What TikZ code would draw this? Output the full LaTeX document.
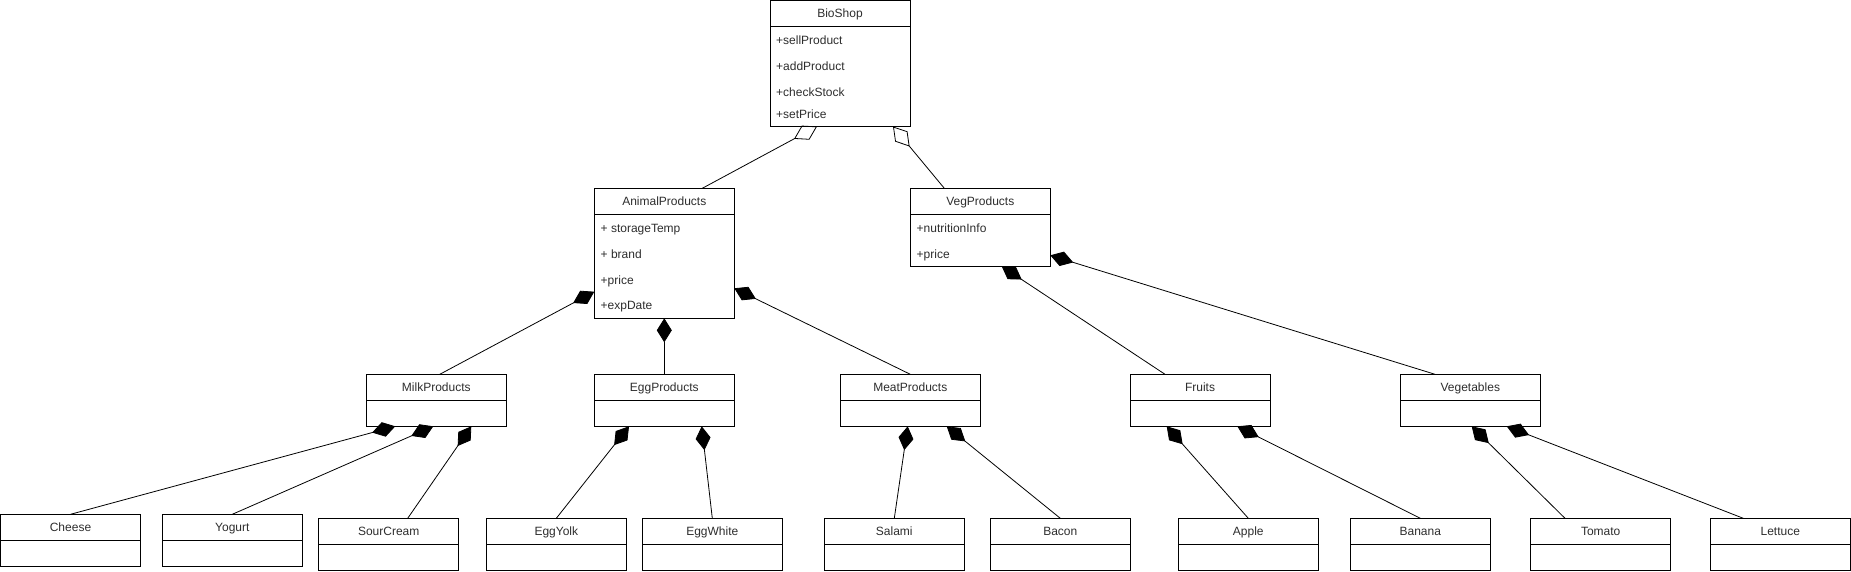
\documentclass[tikz,border=0pt]{standalone}
\usepackage{fontspec}
\setmainfont{Liberation Sans}
\usetikzlibrary{arrows.meta,positioning}
\definecolor{ink}{RGB}{45,45,45}
\tikzset{
  cls/.style={draw,line width=1pt,minimum width=140pt,minimum height=26pt,inner sep=0pt,outer sep=0pt,
    anchor=north west,font=\fontsize{12}{14}\selectfont,text=ink,text height=9pt,text depth=0pt},
  compart/.style={draw,line width=1pt,minimum width=140pt,minimum height=#1,inner sep=0pt,outer sep=0pt},
  compart/.default=26pt,
  row/.style={anchor=west,inner sep=0pt,font=\fontsize{12}{14}\selectfont,text=ink,
    text height=9pt,text depth=0pt},
  part/.style={{Diamond[length=24pt,width=15pt]}-,line width=0.8pt},
  shared/.style={{Diamond[open,length=26pt,width=16pt]}-,line width=0.8pt},
}
\begin{document}
\begin{tikzpicture}[x=1pt,y=-1pt]
    \useasboundingbox (0,0) rectangle (1851,572);
    % top classes
    \node[cls] (bio) at (770,0.5) {BioShop};
    \node[compart=100pt,below=0pt of bio] (bio-b) {};
    \node[row] (bio-r1) at (776,39.7) {+sellProduct};
    \node[row] (bio-r2) at (776,65.7) {+addProduct};
    \node[row] (bio-r3) at (776,91.7) {+checkStock};
    \node[row] (bio-r4) at (776,113.7) {+setPrice};
    \node[cls] (animal) at (594.3,188.3) {AnimalProducts};
    \node[compart=104pt,below=0pt of animal] (animal-b) {};
    \node[row] (animal-r1) at (600.5,227.7) {+ storageTemp};
    \node[row] (animal-r2) at (600.5,253.7) {+ brand};
    \node[row] (animal-r3) at (600.5,279.7) {+price};
    \node[row] (animal-r4) at (600.5,305.3) {+expDate};
    \node[cls] (veg) at (910.3,188.3) {VegProducts};
    \node[compart=52pt,below=0pt of veg] (veg-b) {};
    \node[row] (veg-r1) at (916.5,227.7) {+nutritionInfo};
    \node[row] (veg-r2) at (916.5,253.7) {+price};
    % middle and leaf classes
    \foreach \n/\x/\y/\t in {milk/366.3/374.3/MilkProducts,egg/594.3/374.3/EggProducts,
        meat/840.3/374.3/MeatProducts,fruits/1130/374.3/Fruits,vegetables/1400.3/374.3/Vegetables,
        cheese/0.5/514.3/Cheese,yogurt/162.3/514.3/Yogurt,sourcream/318.7/518.3/SourCream,
        eggyolk/486.3/518.3/EggYolk,eggwhite/642.3/518.3/EggWhite,salami/824.3/518.3/Salami,
        bacon/990.3/518.3/Bacon,apple/1178.3/518.3/Apple,banana/1350.3/518.3/Banana,
        tomato/1530.7/518.3/Tomato,lettuce/1710.3/518.3/Lettuce}{
      \node[cls] (\n) at (\x,\y) {\t};
      \node[compart,below=0pt of \n] (\n-b) {};
    }
    % aggregation
    \draw[shared] ([xshift=47pt]bio-b.south west) -- ([xshift=108pt]animal.north west);
    \draw[shared] ([xshift=123pt]bio-b.south west) -- ([xshift=34pt]veg.north west);
    % composition
    \draw[part] ([yshift=26.6pt]animal-b.south west) -- ([xshift=3.5pt]milk.north);
    \draw[part] (animal-b.south) -- (egg.north);
    \draw[part] ([yshift=30pt]animal-b.south east) -- (meat.north);
    \draw[part] ([xshift=91.4pt]veg-b.south west) -- ([xshift=35pt]fruits.north west);
    \draw[part] ([yshift=11pt]veg-b.south east) -- ([xshift=34.7pt]vegetables.north west);
    \draw[part] ([xshift=29pt]milk-b.south west) -- (cheese.north);
    \draw[part] ([xshift=67pt]milk-b.south west) -- (yogurt.north);
    \draw[part] ([xshift=105pt]milk-b.south west) -- ([xshift=19pt]sourcream.north);
    \draw[part] ([xshift=34.7pt]egg-b.south west) -- (eggyolk.north);
    \draw[part] ([xshift=107.4pt]egg-b.south west) -- (eggwhite.north);
    \draw[part] ([xshift=67.4pt]meat-b.south west) -- (salami.north);
    \draw[part] ([xshift=106.4pt]meat-b.south west) -- (bacon.north);
    \draw[part] ([xshift=36.7pt]fruits-b.south west) -- (apple.north);
    \draw[part] ([xshift=107.3pt]fruits-b.south west) -- (banana.north);
    \draw[part] ([xshift=71.4pt]vegetables-b.south west) -- ([xshift=34.3pt]tomato.north west);
    \draw[part] ([xshift=106.4pt]vegetables-b.south west) -- ([xshift=33pt]lettuce.north west);
\end{tikzpicture}
\end{document}
